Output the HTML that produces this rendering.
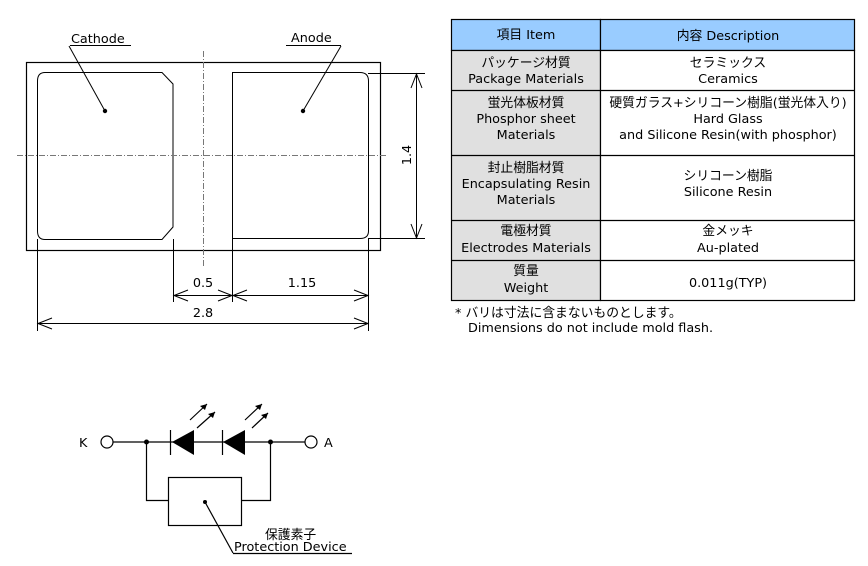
<!DOCTYPE html>
<html><head><meta charset="utf-8"><style>
html,body{margin:0;padding:0;background:#fff;width:868px;height:566px;overflow:hidden}
svg{display:block}
text{font-family:"DejaVu Sans","Noto Sans CJK JP",sans-serif;font-size:12.8px;fill:#000}
</style></head><body>
<svg width="868" height="566" viewBox="0 0 868 566" xmlns="http://www.w3.org/2000/svg">
<g fill="none" stroke="#000" stroke-width="1">
<rect x="26.5" y="62.5" width="354" height="188" stroke-width="1.2"/>
<path d="M45 72.5 H162 L173 84 V227 L162 239.5 H45 Q37.5 239.5 37.5 231 V81 Q37.5 72.5 45 72.5 Z"/>
<path d="M232.5 72.5 H360 Q368.5 72.5 368.5 81 V231 Q368.5 238.5 360 238.5 H232.5 Z"/>
<line x1="203.5" y1="51" x2="203.5" y2="267" stroke="#777" stroke-dasharray="6,2,1,2"/>
<line x1="17" y1="155.5" x2="386" y2="155.5" stroke="#777" stroke-dasharray="6,2,1,2"/>
<line x1="368" y1="73.5" x2="425" y2="73.5"/>
<line x1="368" y1="238.5" x2="425" y2="238.5"/>
<line x1="416.5" y1="74" x2="416.5" y2="238"/>
<path d="M411 88 L416.5 74 L422 88 M411 224 L416.5 238 L422 224"/>
<line x1="173.5" y1="239" x2="173.5" y2="302"/>
<line x1="232.5" y1="239" x2="232.5" y2="302"/>
<line x1="37.5" y1="239" x2="37.5" y2="331"/>
<line x1="368.5" y1="239" x2="368.5" y2="331"/>
<line x1="174" y1="295.5" x2="368" y2="295.5"/>
<path d="M188 290 L174 295.5 L188 301 M218 290 L232 295.5 L218 301 M247 290 L233 295.5 L247 301 M354 290 L368 295.5 L354 301"/>
<line x1="38" y1="323.5" x2="368" y2="323.5"/>
<path d="M52 318 L38 323.5 L52 329 M354 318 L368 323.5 L354 329"/>
<line x1="70" y1="45.5" x2="131" y2="45.5"/>
<line x1="69" y1="46" x2="105" y2="111"/>
<line x1="286" y1="45.5" x2="341" y2="45.5"/>
<line x1="341" y1="46" x2="303" y2="111"/>
</g>
<circle cx="105" cy="111" r="2.2"/><circle cx="303" cy="111" r="2.2"/>
<text x="71" y="43">Cathode</text>
<text x="291" y="42">Anode</text>
<text x="203" y="287" text-anchor="middle">0.5</text>
<text x="302" y="287" text-anchor="middle">1.15</text>
<text x="203" y="317" text-anchor="middle">2.8</text>
<text transform="translate(411,155) rotate(-90)" text-anchor="middle">1.4</text>

<g stroke="#000" stroke-width="1.2">
<rect x="451.5" y="19.5" width="149" height="31" fill="#99ccff"/>
<rect x="600.5" y="19.5" width="254" height="31" fill="#99ccff"/>
<rect x="451.5" y="50.5" width="149" height="250" fill="#e0e0e0"/>
<rect x="600.5" y="50.5" width="254" height="250" fill="#fff"/>
<line x1="451" y1="90.5" x2="855" y2="90.5"/>
<line x1="451" y1="155.5" x2="855" y2="155.5"/>
<line x1="451" y1="220.5" x2="855" y2="220.5"/>
<line x1="451" y1="260.5" x2="855" y2="260.5"/>
</g>
<g text-anchor="middle">
<text x="526" y="39">項目 Item</text>
<text x="728" y="40">内容 Description</text>
<text x="526" y="67">パッケージ材質</text><text x="526" y="83">Package Materials</text>
<text x="728" y="67">セラミックス</text><text x="728" y="83">Ceramics</text>
<text x="526" y="107">蛍光体板材質</text><text x="526" y="123">Phosphor sheet</text><text x="526" y="139">Materials</text>
<text x="728" y="107">硬質ガラス+シリコーン樹脂(蛍光体入り)</text><text x="728" y="123">Hard Glass</text><text x="728" y="139">and Silicone Resin(with phosphor)</text>
<text x="526" y="172">封止樹脂材質</text><text x="526" y="188">Encapsulating Resin</text><text x="526" y="204">Materials</text>
<text x="728" y="180">シリコーン樹脂</text><text x="728" y="196">Silicone Resin</text>
<text x="526" y="235">電極材質</text><text x="526" y="252">Electrodes Materials</text>
<text x="728" y="235">金メッキ</text><text x="728" y="252">Au-plated</text>
<text x="526" y="275">質量</text><text x="526" y="292">Weight</text>
<text x="728" y="287">0.011g(TYP)</text>
</g>
<text x="455" y="317">* バリは寸法に含まないものとします。</text>
<text x="468" y="332">Dimensions do not include mold flash.</text>

<g fill="none" stroke="#000" stroke-width="1.2">
<circle cx="107" cy="442" r="6"/>
<circle cx="311" cy="442" r="6"/>
<line x1="113" y1="442" x2="305" y2="442"/>
<line x1="170.5" y1="430" x2="170.5" y2="455"/>
<line x1="222.5" y1="430" x2="222.5" y2="455"/>
<path d="M146.5 442 V500.5 H168 M241 500.5 H270.5 V442"/>
<rect x="168.5" y="477.5" width="73" height="48"/>
<line x1="205" y1="502" x2="233" y2="553"/>
<line x1="233" y1="553.5" x2="352" y2="553.5"/>
<path d="M190 420 L207 404 M197 428 L215 412 M245 420 L262 404 M252 428 L268 413"/>
</g>
<polygon points="172,442 194,430 194,455"/>
<polygon points="223,442 245,430 245,455"/>
<path d="M207 404 L200 406 L205 410 Z M215 412 L208 414 L213 418 Z M262 404 L255 406 L260 410 Z M268 413 L261 415 L266 419 Z"/>
<circle cx="146.5" cy="442" r="2.5"/><circle cx="270.5" cy="442" r="2.5"/><circle cx="205" cy="502" r="2"/>
<text x="79" y="447">K</text>
<text x="324" y="447">A</text>
<text x="265" y="539">保護素子</text>
<text x="234" y="551">Protection Device</text>
</svg>
</body></html>
